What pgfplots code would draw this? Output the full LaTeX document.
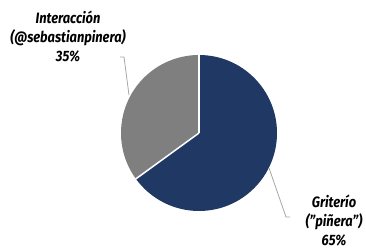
\documentclass[border=0pt]{standalone}
\usepackage{pgfplots}
\usepackage{pgfplotstable}
\pgfplotsset{compat=1.18}
\usepackage{fontspec}
\setmainfont{Fira Sans}[FakeStretch=0.86]
\definecolor{navy}{HTML}{203864}
\definecolor{slicegray}{HTML}{7F7F7F}
\definecolor{leader}{HTML}{A6A6A6}
\pgfplotstableread{
label value
Griterio 65
Interaccion 35
}\piedata
\begin{document}
\begin{tikzpicture}
\pgfplotstablegetelem{0}{value}\of\piedata
\pgfmathsetmacro{\va}{\pgfplotsretval}
\pgfplotstablegetelem{1}{value}\of\piedata
\pgfmathsetmacro{\vb}{\pgfplotsretval}
\pgfmathsetmacro{\frac}{\va/(\va+\vb)}
\pgfmathsetmacro{\angA}{90-360*\frac}
\begin{axis}[
  x=1pt, y=1pt,
  xmin=0, xmax=366, ymin=0, ymax=248,
  hide axis, clip=false, scale only axis,
]
\addplot[draw=none] coordinates {(0,0) (366,248)};
\fill[navy] (axis cs:199,115) -- ++(90:78pt) arc[start angle=90, end angle=\angA, radius=78pt] -- cycle;
\fill[slicegray] (axis cs:199,115) -- ++(\angA:78pt) arc[start angle=\angA, end angle=-270, radius=78pt] -- cycle;
\draw[white, line width=1.5pt] (axis cs:199,115) -- ++(90:78.5pt);
\draw[white, line width=1.5pt] (axis cs:199,115) -- ++(\angA:78.5pt);
\draw[leader, line width=0.8pt] (axis cs:120,191) -- (axis cs:124,191) -- (axis cs:129,153);
\draw[leader, line width=0.8pt] (axis cs:269,80) -- (axis cs:286,31) -- (axis cs:290,31);
\node[align=center, font=\fontsize{15}{19}\selectfont\bfseries\itshape] at (axis cs:68,211) {Interacción\\(@sebastianpinera)\\35\%};
\node[align=center, font=\fontsize{15}{19}\selectfont\bfseries\itshape] at (axis cs:334,27) {Griterío\\("piñera")\\65\%};
\end{axis}
\end{tikzpicture}
\end{document}
